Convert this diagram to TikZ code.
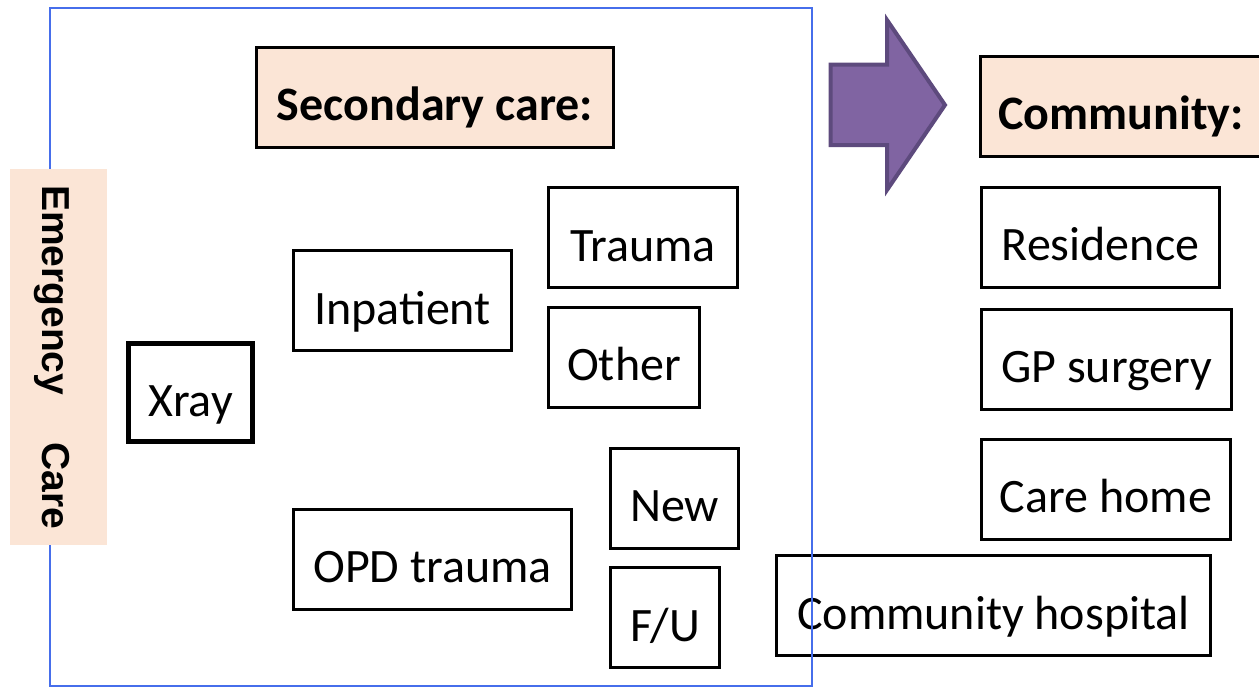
\documentclass[tikz,border=0pt]{standalone}
\usepackage{fontspec}
\setmainfont{Carlito}
\newfontfamily\labelsans{Liberation Sans}
\definecolor{peach}{RGB}{251,229,214}
\definecolor{frameblue}{RGB}{70,110,235}
\definecolor{arrowfill}{RGB}{128,100,162}
\definecolor{arrowline}{RGB}{93,74,125}
\begin{document}
\begin{tikzpicture}[x=1pt,y=-1pt,
  box/.style={draw=black,line width=3pt,inner sep=0pt,minimum height=100pt,
    font=\fontsize{48}{56}\selectfont,text height=48pt,text depth=1pt},
  header/.style={box,fill=peach,font=\fontsize{48}{56}\selectfont\bfseries},
  sidelabel/.style={fill=peach,inner sep=0pt,rotate=-90,text height=34pt,text depth=1pt,
    font=\labelsans\bfseries\fontsize{39}{46}\selectfont}]
\useasboundingbox (0,0) rectangle (1259,688);

% secondary care boxes
\node[header,minimum width=357pt] (sec) at (435,97) {Secondary care:};
\node[box,line width=5pt,minimum width=124pt,minimum height=98pt] (xray) at (190.5,392.5) {Xray};
\node[box,minimum width=218pt] (inp) at (402.5,300.5) {Inpatient};
\node[box,minimum width=189pt] (trauma) at (643,237.5) {Trauma};
\node[box,minimum width=151pt] (other) at (624,357) {Other};
\node[box,minimum width=128pt] (new) at (674.5,498) {New};
\node[box,minimum width=109pt] (fu) at (665,617.5) {F/U};
\node[box,minimum width=278pt] (opd) at (432.5,559) {OPD trauma};

% community boxes
\node[header,minimum width=281pt] (comm) at (1121,106) {Community:};
\node[box,minimum width=238pt] (res) at (1100.5,237) {Residence};
\node[box,minimum width=250pt] (gp) at (1106.5,359) {GP surgery};
\node[box,minimum width=249pt] (carehome) at (1106,489) {Care home};
\node[box,minimum width=434pt] (chosp) at (993.5,605.5) {Community hospital};

% secondary care frame
\draw[frameblue,line width=1.5pt] (50,8) rectangle (812,686);

% emergency care label
\node[sidelabel,minimum width=376pt,minimum height=97pt] (emerg) at (58.5,357)
  {Emergency\hspace{47pt}Care};

% block arrow towards the community
\draw[arrowline,fill=arrowfill,line width=4pt,line join=miter]
  (830.5,64.5) -- (887,64.5) -- (887,20) -- (945,105) -- (887,190)
  -- (887,145) -- (830.5,145) -- cycle;
\end{tikzpicture}
\end{document}
